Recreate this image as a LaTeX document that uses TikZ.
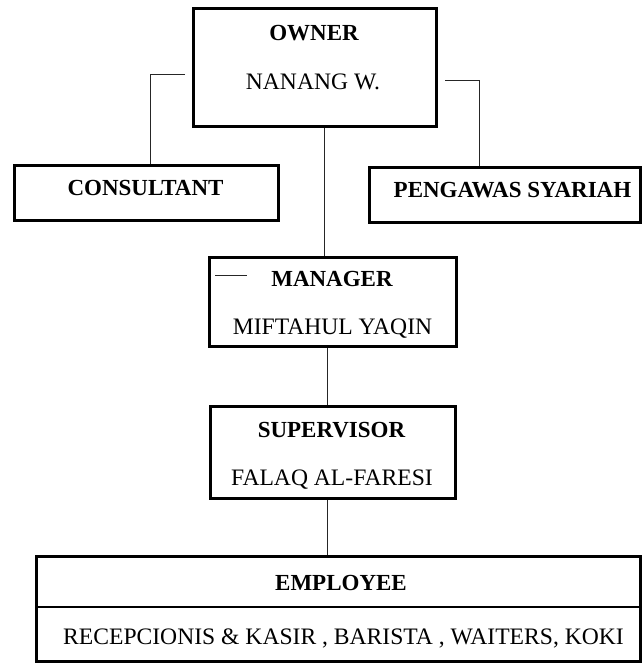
\documentclass[tikz,border=0pt]{standalone}
\usepackage{fontspec}
\setmainfont{Liberation Serif}
\tikzstyle{post} = [draw=black, line width=3pt, inner sep=0pt]
\tikzstyle{heading} = [font=\bfseries\fontsize{23}{25}\selectfont, text height=15.5pt, text depth=0pt, inner sep=0pt]
\tikzstyle{person} = [font=\fontsize{23.6}{26}\selectfont, text height=15.5pt, text depth=0pt, inner sep=0pt]
\tikzstyle{link} = [line width=1pt, black!85]

\begin{document}
\begin{tikzpicture}[x=1pt,y=-1pt]
		\useasboundingbox (0,0) rectangle (644,666);

		% Draw the boxes
		\node [post, minimum width=243pt, minimum height=118pt] (own) at (315,67.5) {};
		\node [post, minimum width=264pt, minimum height=55pt] (cons) at (146.5,193) {};
		\node [post, minimum width=271pt, minimum height=55pt] (peng) at (505,195) {};
		\node [post, minimum width=247pt, minimum height=89pt] (mgr) at (333,302) {};
		\node [post, minimum width=245pt, minimum height=92pt] (sup) at (333,452.5) {};
		\node [post, minimum width=604pt, minimum height=105pt] (emp) at (338.5,609) {};
		\coordinate (div) at (0,607);
		\draw [line width=2pt] (emp.west |- div) -- (emp.east |- div);

		% texts
		\node [heading] (ownT) at (314,33) {OWNER};
		\node [person] (ownN) at (313,82) {NANANG W.};
		\node [heading] (consT) at (145.5,188) {CONSULTANT};
		\node [heading] (pengT) at (512.5,190) {PENGAWAS SYARIAH};
		\node [heading] (mgrT) at (332,279) {MANAGER};
		\node [person] (mgrN) at (332.5,327) {MIFTAHUL YAQIN};
		\node [heading] (supT) at (331.5,430) {SUPERVISOR};
		\node [person] (supN) at (332,478) {FALAQ AL-FARESI};
		\node [heading] (empT) at (341,583) {EMPLOYEE};
		\node [person] (empN) at (343.5,637) {RECEPCIONIS \& KASIR , BARISTA , WAITERS, KOKI};

		% Draw the lines
		\coordinate (ownL) at (185,75);
		\coordinate (ownR) at (445,81);
		\draw [link] (ownL) -| ([xshift=3.5pt]cons.north);
		\draw [link] (ownR) -| ([xshift=-26pt]peng.north);
		\draw [link] ([xshift=9pt]own.south) -- ([xshift=-9pt]mgr.north);
		\draw [link] ([xshift=-6pt]mgr.south) -- ([xshift=-6pt]sup.north);
		\draw [link] ([xshift=-6pt]sup.south) -- ([xshift=-6pt]sup.south |- emp.north);
		\coordinate (mgrA) at (215,275);
		\coordinate (mgrB) at (247,275);
		\draw [link] (mgrA) -- (mgrB);
\end{tikzpicture}
\end{document}
